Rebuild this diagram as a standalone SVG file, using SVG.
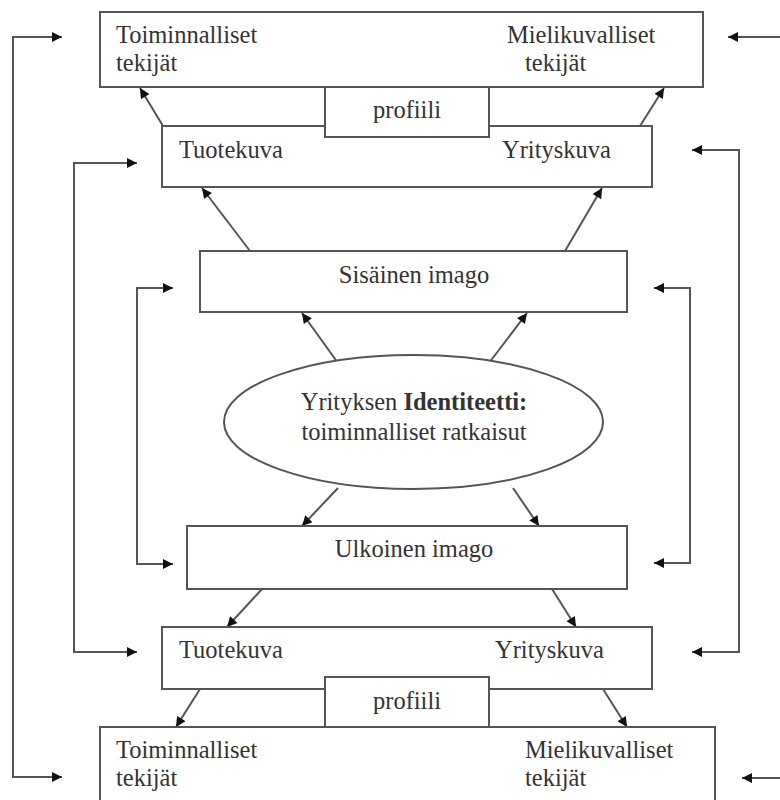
<svg xmlns="http://www.w3.org/2000/svg" width="780" height="800" viewBox="0 0 780 800">
<style>
.box{fill:#fff;stroke:#555;stroke-width:2}
.t{font-family:"Liberation Serif","Times New Roman",serif;font-size:24.5px;fill:#333}
.m{text-anchor:middle}
.c{fill:none;stroke:#555;stroke-width:2}
</style>
<defs>
<marker id="ah" viewBox="0 0 10 10" refX="10" refY="5" markerWidth="12" markerHeight="10" markerUnits="userSpaceOnUse" orient="auto-start-reverse">
<path d="M0,0 L10,5 L0,10 z" fill="#111"/>
</marker>
</defs>
<rect width="780" height="800" fill="#fff"/>
<g id="connectors">
<polyline class="c" points="62,37 13,37 13,777 62,777" marker-start="url(#ah)" marker-end="url(#ah)"/>
<polyline class="c" points="137,163 74,163 74,652 137,652" marker-start="url(#ah)" marker-end="url(#ah)"/>
<polyline class="c" points="173,288 137,288 137,564 173,564" marker-start="url(#ah)" marker-end="url(#ah)"/>
<polyline class="c" points="654,288 690,288 690,563 654,563" marker-start="url(#ah)" marker-end="url(#ah)"/>
<polyline class="c" points="692,150 739,150 739,652 692,652" marker-start="url(#ah)" marker-end="url(#ah)"/>
<line class="c" x1="780" y1="37" x2="728" y2="37" marker-end="url(#ah)"/>
<line class="c" x1="780" y1="778" x2="742" y2="778" marker-end="url(#ah)"/>
<line class="c" x1="163" y1="126" x2="140" y2="88" marker-end="url(#ah)"/>
<line class="c" x1="640" y1="126" x2="664" y2="88" marker-end="url(#ah)"/>
<line class="c" x1="250" y1="251" x2="202" y2="188" marker-end="url(#ah)"/>
<line class="c" x1="565" y1="251" x2="602" y2="188" marker-end="url(#ah)"/>
<line class="c" x1="338" y1="363" x2="302" y2="313" marker-end="url(#ah)"/>
<line class="c" x1="489" y1="363" x2="527" y2="313" marker-end="url(#ah)"/>
<line class="c" x1="338" y1="488" x2="302" y2="526" marker-end="url(#ah)"/>
<line class="c" x1="513" y1="488" x2="539" y2="526" marker-end="url(#ah)"/>
<line class="c" x1="262" y1="589" x2="227" y2="627" marker-end="url(#ah)"/>
<line class="c" x1="552" y1="589" x2="576" y2="627" marker-end="url(#ah)"/>
<line class="c" x1="200" y1="689" x2="176" y2="727" marker-end="url(#ah)"/>
<line class="c" x1="603" y1="689" x2="627" y2="727" marker-end="url(#ah)"/>
</g>
<g id="top-factors">
<rect class="box" x="100" y="12" width="603" height="75"/>
<text class="t" x="116" y="43">Toiminnalliset</text>
<text class="t" x="116" y="71">tekijät</text>
<text class="t" x="507" y="43">Mielikuvalliset</text>
<text class="t" x="525" y="71">tekijät</text>
</g>
<g id="top-images">
<rect class="box" x="162" y="126" width="490" height="61"/>
<text class="t" x="179" y="158">Tuotekuva</text>
<text class="t" x="502" y="158">Yrityskuva</text>
</g>
<g id="top-profile">
<rect class="box" x="325" y="87" width="164" height="50"/>
<text class="t m" x="407" y="118">profiili</text>
</g>
<g id="internal-image">
<rect class="box" x="200" y="251" width="427" height="61"/>
<text class="t m" x="414" y="283">Sisäinen imago</text>
</g>
<g id="identity">
<ellipse class="box" cx="413.5" cy="422" rx="189.5" ry="67"/>
<text class="t m" x="414" y="410">Yrityksen <tspan font-weight="bold">Identiteetti:</tspan></text>
<text class="t m" x="414" y="440">toiminnalliset ratkaisut</text>
</g>
<g id="external-image">
<rect class="box" x="187" y="526" width="440" height="63"/>
<text class="t m" x="414" y="557">Ulkoinen imago</text>
</g>
<g id="bottom-images">
<rect class="box" x="162" y="627" width="490" height="62"/>
<text class="t" x="179" y="658">Tuotekuva</text>
<text class="t" x="495" y="658">Yrityskuva</text>
</g>
<g id="bottom-factors">
<rect class="box" x="100" y="727" width="615" height="90"/>
<text class="t" x="116" y="758">Toiminnalliset</text>
<text class="t" x="116" y="786">tekijät</text>
<text class="t" x="525" y="758">Mielikuvalliset</text>
<text class="t" x="525" y="786">tekijät</text>
</g>
<g id="bottom-profile">
<rect class="box" x="325" y="677" width="164" height="50"/>
<text class="t m" x="407" y="709">profiili</text>
</g>
</svg>
